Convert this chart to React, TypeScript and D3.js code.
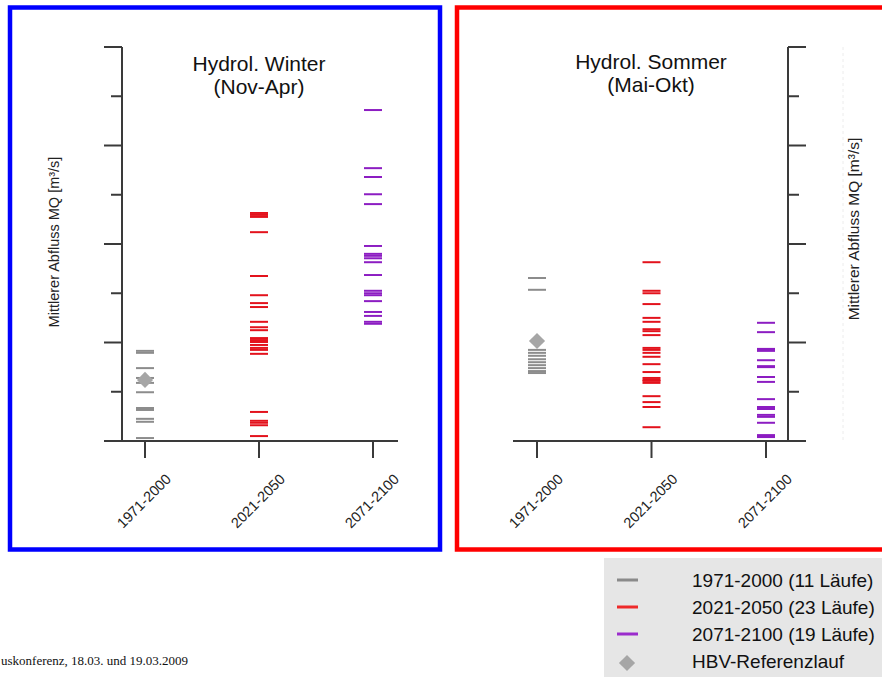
import React from "react";
import * as d3 from "d3";

// Zeitraeume (x-Achse)
const periods = ["1971-2000", "2021-2050", "2071-2100"];

// Hydrol. Winter (Nov-Apr) - MQ der einzelnen Laeufe (ohne Skala)
const winter1971 = [18.3, 17.9, 14.8, 12.8, 11.8, 9.9, 6.7, 6.3, 4.5, 3.9, 0.6];
const winter2021 = [
  46.3, 45.9, 45.5, 42.4, 33.5, 29.6, 28.0, 27.2, 24.2, 23.1, 22.5, 20.9,
  20.5, 20.1, 19.5, 18.9, 18.5, 17.7, 5.9, 4.1, 3.7, 3.2, 1.0,
];
const winter2071 = [
  67.2, 55.4, 53.6, 50.1, 48.1, 39.6, 38.0, 37.6, 37.1, 36.3, 33.7, 30.5,
  30.0, 29.6, 28.4, 26.2, 25.4, 24.2, 23.8,
];
const winterRef = 12.4;

// Hydrol. Sommer (Mai-Okt)
const summer1971 = [33.1, 30.7, 18.5, 17.9, 17.3, 16.6, 16.0, 15.4, 14.8, 14.2, 13.8];
const summer2021 = [
  36.3, 30.5, 30.0, 27.8, 25.0, 24.2, 22.7, 22.3, 21.5, 18.9, 18.5, 17.9,
  17.1, 15.6, 14.0, 12.8, 12.4, 12.2, 11.8, 9.1, 7.9, 6.9, 2.8,
];
const summer2071 = [
  24.0, 22.1, 18.7, 18.5, 18.3, 16.4, 15.2, 15.0, 13.0, 12.0, 8.5, 6.9, 6.5,
  5.3, 4.9, 3.7, 1.2, 1.0, 0.8,
];
const summerRef = 20.3;

const legendLabels = [
  "1971-2000 (11 Läufe)",
  "2021-2050 (23 Läufe)",
  "2071-2100 (19 Läufe)",
  "HBV-Referenzlauf",
];

const periodColors = ["#8c8c8c", "#e3121c", "#8c1dc2"];
const legendColors = ["#8a8a8a", "#ee2a2a", "#9b2ccc"];
const refColor = "#a6a6a6";
const axisColor = "#3a3a3a";
const yLabel = "Mittlerer Abfluss MQ [m³/s]";
const font = "Arial, 'Liberation Sans', sans-serif";

const y = d3.scaleLinear().domain([0, 80]).range([441, 47]);
const diamond = d3.symbol().type(d3.symbolSquare).size(130)();

type PanelProps = {
  title: string[];
  titleX: number;
  titleY: number;
  xRange: [number, number];
  axisX: number;
  side: number;
  baseRange: [number, number];
  labelX: number;
  labelY: number;
  labelSize: number;
  series: number[][];
  refValue: number;
};

const Panel = ({
  title,
  titleX,
  titleY,
  xRange,
  axisX,
  side,
  baseRange,
  labelX,
  labelY,
  labelSize,
  series,
  refValue,
}: PanelProps) => {
  const x = d3.scalePoint<string>().domain(periods).range(xRange);
  const ticks = y.ticks(8);

  return (
    <g>
      {/* title */}
      {title.map((t, i) => (
        <text
          key={t}
          x={titleX}
          y={titleY + i * 23}
          textAnchor="middle"
          fontSize={21}
          fill="#111"
        >
          {t}
        </text>
      ))}

      {/* y axis */}
      <line x1={axisX} x2={axisX} y1={y(80)} y2={y(0)} stroke={axisColor} strokeWidth={2} />
      {ticks.map((t) => (
        <line
          key={t}
          x1={axisX}
          x2={axisX + side * (t % 20 === 0 ? 18 : 11)}
          y1={y(t)}
          y2={y(t)}
          stroke={axisColor}
          strokeWidth={2}
        />
      ))}
      <text
        transform={`translate(${labelX},${labelY}) rotate(-90)`}
        textAnchor="middle"
        fontSize={labelSize}
        fill="#222"
      >
        {yLabel}
      </text>

      {/* x axis */}
      <line x1={baseRange[0]} x2={baseRange[1]} y1={y(0)} y2={y(0)} stroke={axisColor} strokeWidth={2} />
      {periods.map((p) => (
        <g key={p}>
          <line x1={x(p)} x2={x(p)} y1={y(0)} y2={y(0) + 17} stroke={axisColor} strokeWidth={2} />
          <text
            transform={`translate(${(x(p) || 0) + 27},480) rotate(-45)`}
            textAnchor="end"
            fontSize={14.5}
            fill="#222"
          >
            {p}
          </text>
        </g>
      ))}

      {/* runs */}
      {series.map((vals, i) =>
        vals.map((v, j) => (
          <line
            key={`${i}-${j}`}
            x1={(x(periods[i]) || 0) - 9}
            x2={(x(periods[i]) || 0) + 9}
            y1={y(v)}
            y2={y(v)}
            stroke={periodColors[i]}
            strokeWidth={2}
          />
        ))
      )}

      {/* HBV reference */}
      <path
        d={diamond || ""}
        transform={`translate(${x(periods[0])},${y(refValue)}) rotate(45)`}
        fill={refColor}
      />
    </g>
  );
};

export default function App() {
  return (
    <svg width={882} height={677} style={{ display: "block", position: "absolute", left: 0, top: 0 }} fontFamily={font}>
      <rect width={882} height={677} fill="#fff" />

      {/* frames */}
      <rect x={10} y={7.5} width={430} height={542} fill="none" stroke="#0000ff" strokeWidth={4.5} />
      <rect x={457} y={7.5} width={440} height={542} fill="none" stroke="#ff0000" strokeWidth={4.5} />

      <Panel
        title={["Hydrol. Winter", "(Nov-Apr)"]}
        titleX={259}
        titleY={71}
        xRange={[145, 373]}
        axisX={122}
        side={-1}
        baseRange={[104, 398]}
        labelX={59}
        labelY={242}
        labelSize={14.5}
        series={[winter1971, winter2021, winter2071]}
        refValue={winterRef}
      />
      <line x1={843} x2={843} y1={47} y2={441} stroke="#ececec" strokeWidth={1} strokeDasharray="3,3" />
      <Panel
        title={["Hydrol. Sommer", "(Mai-Okt)"]}
        titleX={651}
        titleY={69}
        xRange={[537, 766]}
        axisX={788}
        side={1}
        baseRange={[513, 806]}
        labelX={859}
        labelY={229}
        labelSize={15.5}
        series={[summer1971, summer2021, summer2071]}
        refValue={summerRef}
      />

      {/* legend */}
      <rect x={604} y={558} width={278} height={119} fill="#e6e6e6" />
      {legendLabels.map((l, i) => (
        <g key={l} transform={`translate(0,${580 + i * 27})`}>
          {i < 3 ? (
            <line x1={617} x2={638} y1={0} y2={0} stroke={legendColors[i]} strokeWidth={3} />
          ) : (
            <path d={diamond || ""} transform="translate(627,2) rotate(45)" fill={refColor} />
          )}
          <text x={692} y={7} fontSize={19} fill="#111">
            {l}
          </text>
        </g>
      ))}

      {/* footer */}
      <text x={1} y={665} fontSize={13} fontFamily="'Liberation Serif', 'Times New Roman', serif" fill="#111">
        uskonferenz, 18.03. und 19.03.2009
      </text>
    </svg>
  );
}
